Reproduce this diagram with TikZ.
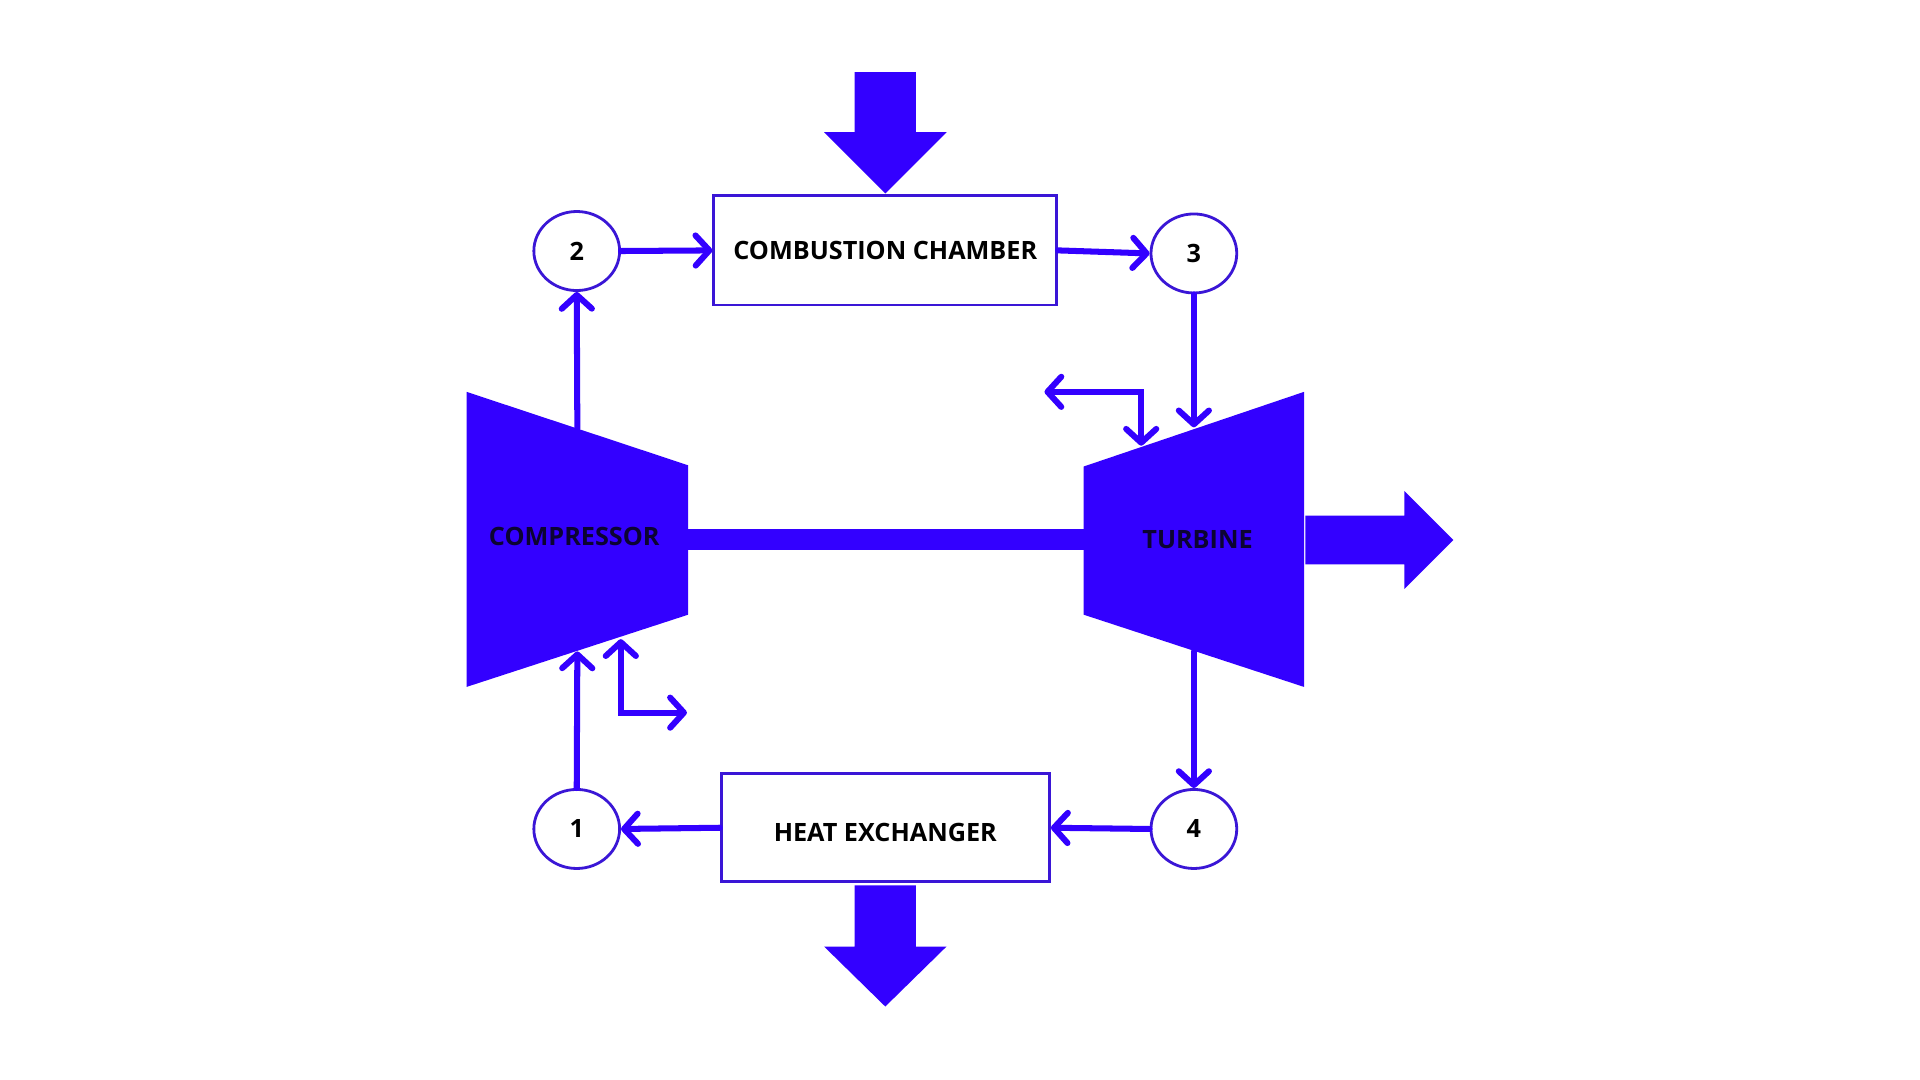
\documentclass[tikz,border=0pt]{standalone}
\usepackage{fontspec}
\setmainfont{Open Sans}
\usetikzlibrary{arrows.meta,shapes.geometric}
\definecolor{vb}{RGB}{51,0,255}
\definecolor{bd}{RGB}{58,22,214}
\definecolor{ink}{RGB}{12,4,50}
\begin{document}
\begin{tikzpicture}[x=0.01cm,y=-0.01cm,
  chev/.tip={Straight Barb[round,length=3.2pt,width=7pt]},
  lblfont/.style={font=\fontsize{5.86pt}{7pt}\selectfont\bfseries},
  flow/.style={draw=vb,line width=1.4pt,line cap=round,-chev},
  bleed/.style={draw=vb,line width=1.4pt,line cap=round,line join=miter,chev-chev},
  box/.style={draw=bd,line width=0.65pt,fill=white,lblfont,text=black,inner sep=0pt},
  ring/.style={ellipse,draw=bd,line width=0.65pt,fill=white,lblfont,text=black,
    minimum width=0.70cm,minimum height=0.645cm,inner sep=0pt},
  machlbl/.style={lblfont,text=ink,inner sep=0pt},
  bigfill/.style={fill=vb}
]
\fill[white] (0,0) rectangle (1568,882);
\useasboundingbox (0,0) rectangle (1568,882);

% compressor and turbine bodies
\fill[bigfill] (381,320) -- (562,380) -- (562,502) -- (381,561) -- cycle;
\fill[bigfill] (885,381) -- (1065,320) -- (1065,561) -- (885,502) -- cycle;
% shaft
\fill[bigfill] (562,432) rectangle (885,449);
% work output arrow
\fill[bigfill] (1066,421) -- (1147,421) -- (1147,401) -- (1187,441) -- (1147,481) -- (1147,461) -- (1066,461) -- cycle;
% heat in / heat out arrows
\fill[bigfill] (698,59) -- (748,59) -- (748,108) -- (773,108) -- (723,158) -- (673,108) -- (698,108) -- cycle;
\fill[bigfill] (698,723) -- (748,723) -- (748,773) -- (773,773) -- (723,822) -- (673,773) -- (698,773) -- cycle;

\node[machlbl] (comp) at (469,438) {COMPRESSOR};
\node[machlbl] (turb) at (978,441) {TURBINE};

\node[box,minimum width=2.80cm,minimum height=0.89cm] (cc) at (723,204.5) {COMBUSTION CHAMBER};
\node[box,minimum width=2.68cm,minimum height=0.88cm,text height=0.23cm,text depth=0pt] (he) at (723,676) {HEAT EXCHANGER};

\node[ring] (n2) at (471,205) {2};
\node[ring] (n3) at (975,207) {3};
\node[ring] (n1) at (471,677) {1};
\node[ring] (n4) at (975,677) {4};

\coordinate (compout) at (471.5,350);
\coordinate (compin) at (471.5,532);
\coordinate (turbin) at (975,349);
\coordinate (turbout) at (975,532);
\coordinate (cbA) at (507,522);
\coordinate (cbB) at (561,582);
\coordinate (tbA) at (853,320);
\coordinate (tbB) at (932,364);

\draw[flow] (compout) -- (n2.south);
\draw[flow] (n2.east) -- (cc.west);
\draw[flow] (cc.east) -- (n3.west);
\draw[flow] (n3.south) -- (turbin);
\draw[flow] (turbout) -- (n4.north);
\draw[flow] (n4.west) -- (he.east);
\draw[flow] (he.west) -- (n1.east);
\draw[flow] (n1.north) -- (compin);

\draw[bleed] (cbA) |- (cbB);
\draw[bleed] (tbA) -| (tbB);
\end{tikzpicture}
\end{document}
